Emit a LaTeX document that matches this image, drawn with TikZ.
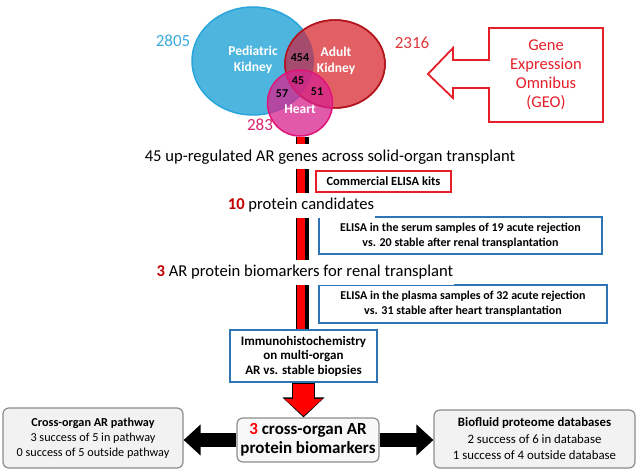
\documentclass[tikz,border=0pt]{standalone}
\usepackage{fontspec}
\setmainfont{Carlito}
\usetikzlibrary{shapes.geometric,arrows.meta}

\definecolor{pedfill}{RGB}{78,182,222}
\definecolor{pedline}{RGB}{40,165,220}
\definecolor{adultfill}{RGB}{226,96,100}
\definecolor{adultline}{RGB}{180,20,30}
\definecolor{bothfill}{RGB}{165,75,110}
\definecolor{heartfill}{RGB}{215,35,142}
\definecolor{heartline}{RGB}{225,20,120}
\definecolor{pedtext}{RGB}{60,170,220}
\definecolor{adulttext}{RGB}{225,55,60}
\definecolor{hearttext}{RGB}{215,35,110}
\definecolor{geored}{RGB}{230,30,40}
\definecolor{darkred}{RGB}{192,0,0}
\definecolor{methodblue}{RGB}{46,117,182}
\definecolor{resgray}{RGB}{140,140,140}
\definecolor{resfill}{RGB}{242,242,242}

\begin{document}
\begin{tikzpicture}[x=1pt,y=-1pt,
    venn/.style={ellipse, inner sep=0pt, line width=1.5pt},
    vlabel/.style={font=\fontsize{13.5}{16}\selectfont\bfseries, text=white, align=center},
    vnum/.style={font=\fontsize{12}{14}\selectfont\bfseries},
    count/.style={font=\fontsize{17}{19}\selectfont},
    stage/.style={fill=white, minimum height=25pt, inner sep=1pt, font=\fontsize{16.6}{19}\selectfont},
    method/.style={draw=methodblue, line width=1.5pt, fill=white, align=center, inner sep=0pt, font=\fontsize{12}{15}\selectfont\bfseries},
    result/.style={draw=resgray, line width=1.2pt, fill=resfill, rounded corners=6pt, align=center, inner sep=0pt, font=\fontsize{12.2}{15}\selectfont},
    fatarrow/.style={line width=14pt, -{Triangle[length=17pt,width=30pt]}}]

    \useasboundingbox (0,0) rectangle (639,473);

    % venn diagram
    \node[venn, fill=pedfill, draw=pedline, minimum width=122pt, minimum height=108pt] (ped) at (253,61) {};
    \node[venn, fill=adultfill, draw=adultline, minimum width=100pt, minimum height=88pt] (adult) at (335,64) {};
    \begin{scope}
        \clip (ped.center) ellipse [x radius=61, y radius=54];
        \fill[bothfill] (adult.center) ellipse [x radius=50, y radius=44];
    \end{scope}
    \draw[adultline, line width=1.5pt] (adult.center) ellipse [x radius=50, y radius=44];
    \node[venn, fill=heartfill, fill opacity=.75, draw=heartline, minimum width=65pt, minimum height=66pt] (heart) at (300,103) {};

    \node[vlabel] (pedlab) at (253,60) {Pediatric\\Kidney};
    \node[vlabel] (adultlab) at (336,61) {Adult\\Kidney};
    \node[vlabel] (heartlab) at (300,109) {Heart};
    \node[vnum] (n454) at (300,58) {454};
    \node[vnum] (n45) at (298,81) {45};
    \node[vnum] (n57) at (282,94) {57};
    \node[vnum] (n51) at (317,92) {51};
    \node[count, text=pedtext] (c2805) at (173,41) {2805};
    \node[count, text=adulttext] (c2316) at (412,43) {2316};
    \node[count, text=hearttext] (c283) at (260,125) {283};

    % GEO callout
    \node[font=\fontsize{16.5}{19}\selectfont, text=geored, align=center] (geo) at (546,75) {Gene\\Expression\\Omnibus\\(GEO)};
    \draw[geored, line width=1.8pt, line join=miter] (489,28) -- (603,28) -- (603,122) -- (489,122) -- (489,88) -- (453,88) -- (453,98)
        -- (428,74) -- (453,48) -- (453,60) -- (489,60) -- cycle;

    % method boxes
    \node[method, draw=geored, minimum width=135pt, minimum height=21pt, font=\fontsize{12.5}{15}\selectfont\bfseries] (kits) at (383.5,181.5) {Commercial ELISA kits};
    \node[method, minimum width=283pt, minimum height=37pt] (serum) at (460.5,235.5) {ELISA in the serum samples of 19 acute rejection\\vs. 20 stable after renal transplantation};
    \node[method, minimum width=288pt, minimum height=38pt] (plasma) at (463,304) {ELISA in the plasma samples of 32 acute rejection\\vs. 31 stable after heart transplantation};
    \node[method, minimum width=147pt, minimum height=52pt, font=\fontsize{13}{14.5}\selectfont\bfseries] (immuno) at (303.5,356) {Immunohistochemistry\\on multi-organ\\AR vs. stable biopsies};

    % red bar
    \draw[black, line width=13pt] ([xshift=2pt]heart.south) -- ([xshift=2pt]heart.south |- immuno.north);
    \draw[red, line width=8pt] ([xshift=.5pt]heart.south) -- ([xshift=.5pt]heart.south |- immuno.north);

    % stages
    \node[stage] (genes) at (330,157) {45 up-regulated AR genes across solid-organ transplant};
    \node[stage] (cands) at (301,205) {\textbf{\color{darkred}10} protein candidates};
    \node[stage] (renal) at (305,272) {\textbf{\color{darkred}3} AR protein biomarkers for renal transplant};

    % results
    \node[result, fill=white!50!resfill, minimum width=142pt, minimum height=44pt, font=\fontsize{17}{19}\selectfont\bfseries] (final) at (308,440) {{\color{red}3} cross-organ AR\\protein biomarkers};
    \node[result, minimum width=180pt, minimum height=60pt] (pathway) at (93,438) {\textbf{Cross-organ AR pathway}\\3 success of 5 in pathway\\0 success of 5 outside pathway};
    \node[result, minimum width=201pt, minimum height=58pt, font=\fontsize{12.8}{16.5}\selectfont] (biofluid) at (534.5,439) {\textbf{Biofluid proteome databases}\\2 success of 6 in database\\1 success of 4 outside database};

    \draw[black, line width=23pt, -{Triangle[length=20pt,width=41pt]}] (immuno.south) -- (immuno.south |- final.north);
    \draw[red, line width=21pt, shorten >=1.5pt, shorten <=.8pt, -{Triangle[length=17pt,width=37pt]}] (immuno.south) -- (immuno.south |- final.north);
    \draw[fatarrow] (final.west) -- (final.west -| pathway.east);
    \draw[fatarrow] (final.east) -- (final.east -| biofluid.west);
\end{tikzpicture}
\end{document}
